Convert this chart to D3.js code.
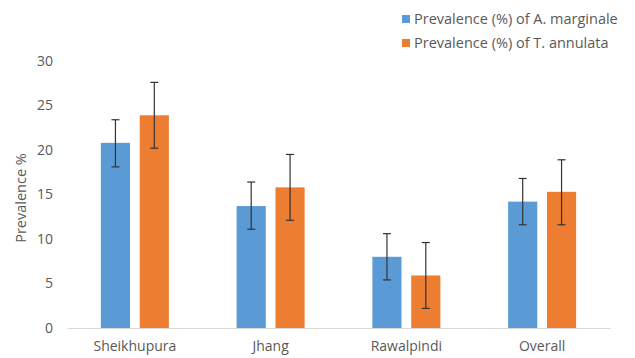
<!DOCTYPE html>
<html><head><meta charset="utf-8">
<script src="https://cdn.jsdelivr.net/npm/d3@7"></script>
<style>body{margin:0;background:#fff}svg{display:block}text{font-family:"Open Sans","Noto Sans",sans-serif;fill:#595959}</style>
</head><body><svg id="c" width="635" height="358"></svg>
<script>
const categories = ["Sheikhupura","Jhang","Rawalpindi","Overall"];
const seriesNames = ["Prevalence (%) of A. marginale","Prevalence (%) of T. annulata"];
const marginale = [20.8, 13.7, 8.0, 14.2];
const marginaleLow = [18.1, 11.1, 5.4, 11.6];
const marginaleHigh = [23.4, 16.4, 10.6, 16.8];
const annulata = [23.9, 15.8, 5.9, 15.3];
const annulataLow = [20.2, 12.1, 2.2, 11.6];
const annulataHigh = [27.6, 19.5, 9.6, 18.9];
const yTicks = [0,5,10,15,20,25,30];
const colors = ["#5B9BD5","#ED7D31"];

const svg = d3.select("#c");
const x = d3.scaleBand().domain(categories).range([67,610]);
const y = d3.scaleLinear().domain([0,30]).range([328,61]);
const xs = d3.scaleBand().domain([0,1]).range([0, 68]).paddingInner(0.25);

const series = [
  {vals: marginale, lo: marginaleLow, hi: marginaleHigh},
  {vals: annulata, lo: annulataLow, hi: annulataHigh}
];

const ya = svg.append("g").attr("transform","translate(53,0)").call(d3.axisLeft(y).tickValues(yTicks).tickSize(0).tickPadding(0));
ya.select(".domain").remove();
ya.selectAll("text").style("font-size","14px").attr("fill","#595959").style("font-family","'Open Sans',sans-serif");

const xa = svg.append("g").attr("transform","translate(0,328)").call(d3.axisBottom(x).tickSize(0).tickPadding(13));
xa.select(".domain").attr("stroke","#d9d9d9");
xa.selectAll("text").style("font-size","14px").attr("fill","#595959").style("font-family","'Open Sans',sans-serif");

series.forEach((s,i)=>{
  const g = svg.append("g");
  categories.forEach((c,j)=>{
    const bx = x(c) + (x.bandwidth()-68)/2 + xs(i);
    const bw = xs.bandwidth();
    g.append("rect").attr("x",bx).attr("y",y(s.vals[j])).attr("width",bw).attr("height",y(0)-y(s.vals[j])).attr("fill",colors[i]);
    const cx = bx + bw/2;
    g.append("line").attr("x1",cx).attr("x2",cx).attr("y1",y(s.hi[j])).attr("y2",y(s.lo[j])).attr("stroke","#333").attr("stroke-width",1.2);
    [s.hi[j], s.lo[j]].forEach(v=>{
      g.append("line").attr("x1",cx-4).attr("x2",cx+4).attr("y1",y(v)).attr("y2",y(v)).attr("stroke","#333").attr("stroke-width",1.2);
    });
  });
});

svg.append("text").attr("transform","translate(26,198) rotate(-90)").attr("text-anchor","middle").style("font-size","14.5px").text("Prevalence %");

seriesNames.forEach((n,i)=>{
  const ly = 19 + i*24;
  svg.append("rect").attr("x",402).attr("y",ly-4).attr("width",8).attr("height",8).attr("fill",colors[i]);
  svg.append("text").attr("x",414).attr("y",ly).attr("dy","0.35em").style("font-size","14.5px").text(n);
});
</script></body></html>
